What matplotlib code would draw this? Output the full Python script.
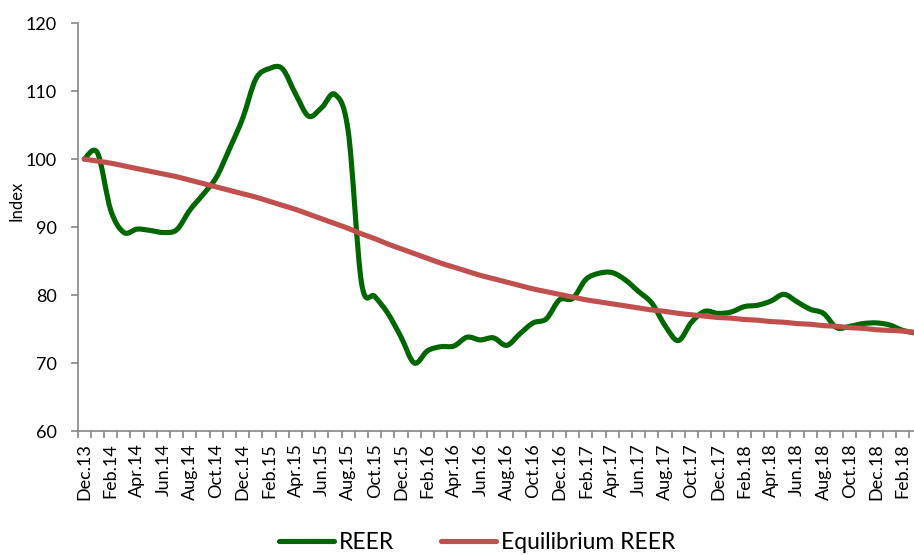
import matplotlib
matplotlib.use("Agg")
import matplotlib.pyplot as plt
from matplotlib.path import Path
from matplotlib.patches import PathPatch
from matplotlib.lines import Line2D

# monthly values, Dec.13 onwards (last point runs past the right edge)
reer = [100.0, 100.9, 92.5, 89.2, 89.7, 89.5, 89.2, 89.6, 92.5, 94.8,
        97.3, 101.5, 106.0, 111.8, 113.3, 113.3, 109.6, 106.3, 107.6, 109.5,
        104.0, 81.8, 79.8, 77.3, 73.8, 70.0, 71.8, 72.4, 72.5, 73.8,
        73.4, 73.7, 72.6, 74.3, 75.9, 76.5, 79.3, 79.5, 82.3, 83.2,
        83.3, 82.2, 80.5, 78.8, 75.5, 73.3, 76.0, 77.6, 77.3, 77.5,
        78.3, 78.5, 79.1, 80.1, 79.0, 77.9, 77.3, 75.2, 75.4, 75.8,
        75.9, 75.6, 74.8, 74.4]
equilibrium = [100.0, 99.7, 99.4, 99.0, 98.6, 98.2, 97.8, 97.4, 96.9, 96.4,
               95.9, 95.4, 94.9, 94.4, 93.8, 93.2, 92.6, 91.9, 91.2, 90.5,
               89.8, 89.0, 88.3, 87.5, 86.8, 86.1, 85.4, 84.7, 84.1, 83.5,
               82.9, 82.4, 81.9, 81.4, 80.9, 80.5, 80.1, 79.7, 79.3, 79.0,
               78.7, 78.4, 78.1, 77.8, 77.6, 77.3, 77.1, 76.9, 76.7, 76.6,
               76.4, 76.3, 76.1, 76.0, 75.8, 75.7, 75.5, 75.4, 75.2, 75.1,
               74.9, 74.8, 74.7, 74.5]
tick_labels = ["Dec.13", "Feb.14", "Apr.14", "Jun.14", "Aug.14", "Oct.14",
               "Dec.14", "Feb.15", "Apr.15", "Jun.15", "Aug.15", "Oct.15",
               "Dec.15", "Feb.16", "Apr.16", "Jun.16", "Aug.16", "Oct.16",
               "Dec.16", "Feb.17", "Apr.17", "Jun.17", "Aug.17", "Oct.17",
               "Dec.17", "Feb.18", "Apr.18", "Jun.18", "Aug.18", "Oct.18",
               "Dec.18", "Feb.18"]

GREEN = "#006600"
RED = "#C0504D"
GREY = "#868686"

plt.rcParams["font.family"] = ["Lato", "DejaVu Sans"]


def smooth_path(ys):
    """Excel-like smoothed line as cubic bezier segments."""
    xs = list(range(len(ys)))
    n = len(ys)
    verts = [(xs[0], ys[0])]
    codes = [Path.MOVETO]
    for i in range(n - 1):
        j0 = max(i - 1, 0)
        j3 = min(i + 2, n - 1)
        c1 = (xs[i] + (xs[i + 1] - xs[j0]) / 6, ys[i] + (ys[i + 1] - ys[j0]) / 6)
        c2 = (xs[i + 1] - (xs[j3] - xs[i]) / 6, ys[i + 1] - (ys[j3] - ys[i]) / 6)
        verts += [c1, c2, (xs[i + 1], ys[i + 1])]
        codes += [Path.CURVE4] * 3
    return Path(verts, codes)


fig = plt.figure(figsize=(9.14, 5.55), dpi=100)
ax = fig.add_axes([0.085, 0.2234, 0.9243, 0.735])

for series, color in [(reer, GREEN), (equilibrium, RED)]:
    ax.add_patch(PathPatch(smooth_path(series), fill=False, edgecolor=color,
                           lw=3.7, capstyle="round", joinstyle="round"))

ax.set_xlim(-0.5, len(reer) - 0.5)
ax.set_ylim(60, 120)
ax.set_yticks(range(60, 121, 10))
ax.set_xticks(range(0, 2 * len(tick_labels), 2))
ax.set_xticklabels(tick_labels, rotation=90)
ax.set_xticks([k - 0.5 for k in range(len(reer) + 1)], minor=True)

ax.tick_params(axis="x", which="major", length=0, pad=9, labelsize=13)
ax.tick_params(axis="x", which="minor", length=5, width=1.2, color=GREY)
ax.tick_params(axis="y", length=5, width=1.2, color=GREY, pad=10, labelsize=13)

for side in ["top", "right"]:
    ax.spines[side].set_visible(False)
for side in ["left", "bottom"]:
    ax.spines[side].set_color(GREY)
    ax.spines[side].set_linewidth(1.2)

ax.set_ylabel("Index", fontsize=12)
ax.yaxis.set_label_coords(-0.0624, 0.564)

handles = [Line2D([], [], color=GREEN, lw=3.7, solid_capstyle="round"),
           Line2D([], [], color=RED, lw=3.7, solid_capstyle="round")]
fig.legend(handles, ["REER", "Equilibrium REER"], loc="center",
           bbox_to_anchor=(0.522, 0.022), ncol=2, frameon=False, fontsize=16.5,
           handlelength=2.4, handletextpad=0.22, columnspacing=2.05)

fig.savefig("out.png", dpi=100)
